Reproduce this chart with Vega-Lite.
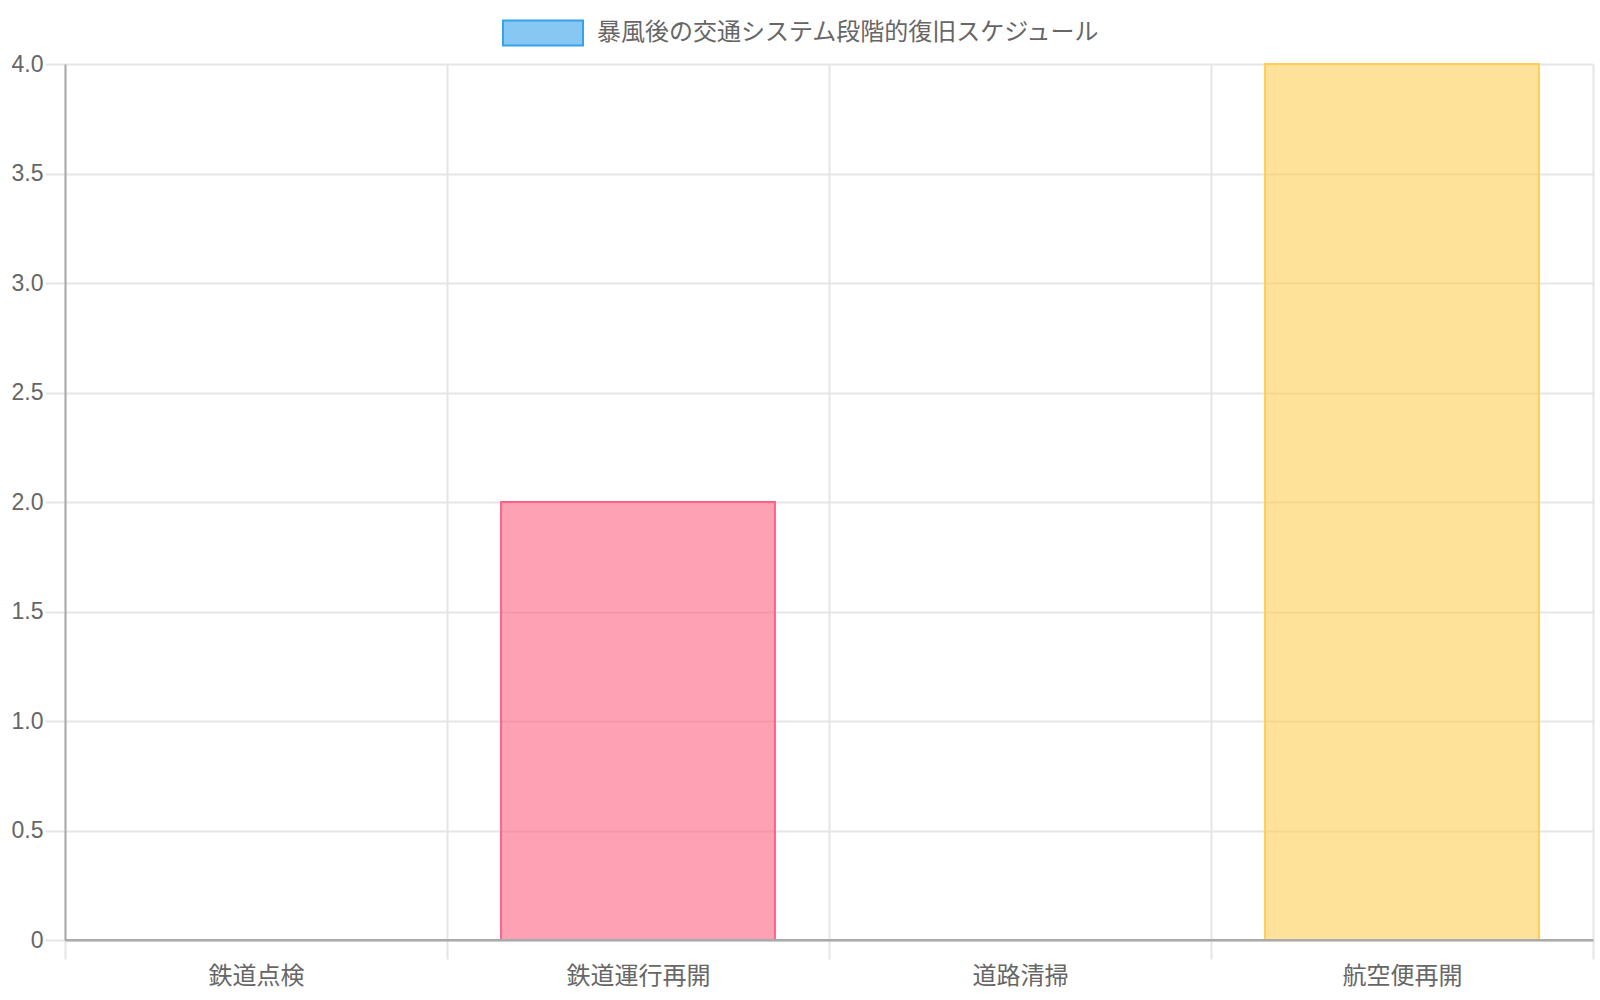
{
  "$schema": "https://vega.github.io/schema/vega-lite/v6.json",
  "width": 1528,
  "height": 876,
  "autosize": {"type": "none"},
  "padding": {"left": 65, "top": 64, "right": 7, "bottom": 60},
  "background": "white",
  "config": {
    "view": {"stroke": null},
    "font": "Liberation Sans, Noto Sans CJK JP"
  },
  "data": {
    "values": [
      {"category": "鉄道点検", "value": 0},
      {"category": "鉄道運行再開", "value": 2},
      {"category": "道路清掃", "value": 0},
      {"category": "航空便再開", "value": 4}
    ]
  },
  "layer": [
    {
      "mark": {"type": "bar", "strokeWidth": 2, "width": {"band": 0.717}},
      "encoding": {
        "x": {
          "field": "category",
          "type": "nominal",
          "sort": null,
          "scale": {"paddingInner": 0, "paddingOuter": 0},
          "axis": {
            "title": null,
            "labelAngle": 0,
            "tickBand": "extent",
            "grid": true,
            "gridColor": "#e5e5e5",
            "gridWidth": 2,
            "tickColor": "#e5e5e5",
            "tickWidth": 2,
            "tickSize": 19,
            "labelPadding": 5,
            "labelFont": "Liberation Sans, Noto Sans CJK JP",
            "labelFontSize": 24,
            "labelColor": "#666",
            "domainColor": "#aaa",
            "domainWidth": 2
          }
        },
        "y": {
          "field": "value",
          "type": "quantitative",
          "scale": {"domain": [0, 4], "nice": false},
          "axis": {
            "title": null,
            "values": [0, 0.5, 1, 1.5, 2, 2.5, 3, 3.5, 4],
            "labelExpr": "datum.value === 0 ? '0' : format(datum.value, '.1f')",
            "grid": true,
            "gridColor": "#e5e5e5",
            "gridWidth": 2,
            "tickColor": "#e5e5e5",
            "tickWidth": 2,
            "tickSize": 20,
            "labelPadding": 2,
            "labelFont": "Liberation Sans, Noto Sans CJK JP",
            "labelFontSize": 23,
            "labelColor": "#666",
            "domainColor": "#aaa",
            "domainWidth": 2
          }
        },
        "fill": {
          "field": "category",
          "type": "nominal",
          "sort": null,
          "scale": {
            "range": ["rgba(54,162,235,0.6)", "rgba(255,99,132,0.6)", "rgba(75,192,192,0.6)", "rgba(255,206,86,0.6)"]
          },
          "legend": {
            "orient": "none",
            "legendX": 437,
            "legendY": -72,
            "values": ["鉄道点検"],
            "labelExpr": "'暴風後の交通システム段階的復旧スケジュール'",
            "title": null,
            "symbolType": "M-1,-0.3125H1V0.3125H-1Z",
            "symbolSize": 6400,
            "symbolStrokeColor": "#36a2eb",
            "symbolStrokeWidth": 2,
            "labelFont": "Liberation Sans, Noto Sans CJK JP",
            "labelFontSize": 24,
            "labelLimit": 0,
            "labelColor": "#666",
            "labelOffset": 13,
            "padding": 0
          }
        },
        "stroke": {
          "field": "category",
          "type": "nominal",
          "sort": null,
          "scale": {
            "range": ["rgb(54,162,235)", "rgb(255,99,132)", "rgb(75,192,192)", "rgb(255,206,86)"]
          },
          "legend": null
        }
      }
    },
    {
      "mark": {"type": "rule", "color": "#aaa", "strokeWidth": 2},
      "encoding": {
        "y": {"datum": 0, "type": "quantitative"}
      }
    }
  ]
}
